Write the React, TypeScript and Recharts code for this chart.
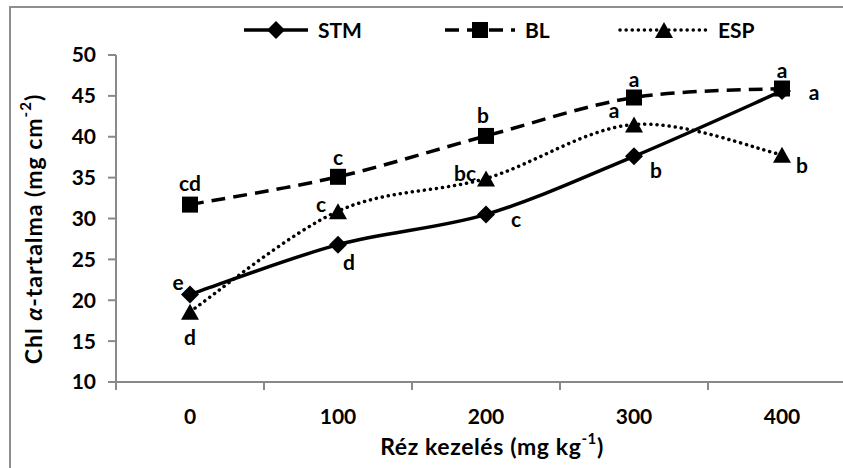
import React from 'react';
import { LineChart, Line, XAxis, YAxis, Legend, LabelList } from 'recharts';

// ─── Data ─────────────────────────────────────────────────────────────────────

const doses = ['0', '100', '200', '300', '400'];
const seriesNames = ['STM', 'BL', 'ESP'];
const stmValues = [20.7, 26.8, 30.5, 37.6, 45.6];
const blValues = [31.7, 35.1, 40.1, 44.8, 45.9];
const espValues = [18.6, 30.9, 34.9, 41.5, 37.8];
const stmLetters = ['e', 'd', 'c', 'b', 'a'];
const blLetters = ['cd', 'c', 'b', 'a', 'a'];
const espLetters = ['d', 'c', 'bc', 'a', 'b'];
const yTicks = [10, 15, 20, 25, 30, 35, 40, 45, 50];

const chartData = doses.map((dose, i) => ({
  dose,
  STM: stmValues[i],
  BL: blValues[i],
  ESP: espValues[i],
}));

// ─── Layout / style ───────────────────────────────────────────────────────────

const FONT = 'Lato, "Noto Sans", sans-serif';
const FONT_SIZE = 21;
const AXIS_GREY = '#898989';
const CHART_W = 880;
const CHART_H = 468;
const MARGIN = { top: 25, right: 24, left: 56, bottom: 0 };
const Y_AXIS_W = 60;
const X_AXIS_H = 86;
const BAND = (CHART_W - MARGIN.left - MARGIN.right - Y_AXIS_W) / doses.length;

// letter offsets (dx, dy) from each marker
const stmLabelOffsets = [[-12, -13], [11, 17], [30, 4], [22, 13], [32, 1]];
const blLabelOffsets = [[0, -22], [0, -20], [-3, -21], [0, -19], [0, -19]];
const espLabelOffsets = [[0, 25], [-17, -8], [-21, -6], [-20, -15], [20, 10]];

// legend item placement: left x, icon length
const legendLayout = [
  { x: 242, icon: 68 },
  { x: 443, icon: 74 },
  { x: 618, icon: 92 },
];

// ─── Excel-like smoothed line (Catmull-Rom as cubic Béziers) ──────────────────

const excelSmooth = (ctx: any) => {
  let pts: [number, number][] = [];
  return {
    areaStart() {},
    areaEnd() {},
    lineStart() {
      pts = [];
    },
    point(x: number, y: number) {
      pts.push([+x, +y]);
    },
    lineEnd() {
      if (!pts.length) return;
      ctx.moveTo(pts[0][0], pts[0][1]);
      for (let i = 0; i < pts.length - 1; i++) {
        const p0 = pts[Math.max(i - 1, 0)];
        const p1 = pts[i];
        const p2 = pts[i + 1];
        const p3 = pts[Math.min(i + 2, pts.length - 1)];
        ctx.bezierCurveTo(
          p1[0] + (p2[0] - p0[0]) / 6,
          p1[1] + (p2[1] - p0[1]) / 6,
          p2[0] - (p3[0] - p1[0]) / 6,
          p2[1] - (p3[1] - p1[1]) / 6,
          p2[0],
          p2[1],
        );
      }
    },
  };
};

// ─── Markers ──────────────────────────────────────────────────────────────────

function Diamond({ cx, cy, r = 9 }: { cx: number; cy: number; r?: number }) {
  return <path d={`M${cx},${cy - r}L${cx + r},${cy}L${cx},${cy + r}L${cx - r},${cy}Z`} fill="#000" />;
}

function Square({ cx, cy, s = 16 }: { cx: number; cy: number; s?: number }) {
  return <rect x={cx - s / 2} y={cy - s / 2} width={s} height={s} fill="#000" />;
}

function Triangle({ cx, cy, r = 9 }: { cx: number; cy: number; r?: number }) {
  return <path d={`M${cx},${cy - r + 1}L${cx + r},${cy + r - 1}L${cx - r},${cy + r - 1}Z`} fill="#000" />;
}

const markers = [Diamond, Square, Triangle];
const lineStyles = [
  { strokeDasharray: undefined, strokeLinecap: 'butt' as const },
  { strokeDasharray: '14 8', strokeLinecap: 'butt' as const },
  { strokeDasharray: '0.1 6', strokeLinecap: 'round' as const },
];

// ─── Letter labels ────────────────────────────────────────────────────────────

function makeLetterLabel(letters: string[], offsets: number[][]) {
  return (props: any) => {
    const i = props.index ?? 0;
    const x = props.x ?? props.viewBox?.x;
    const y = props.y ?? props.viewBox?.y;
    if (x == null || y == null) return null;
    return (
      <text
        x={x + offsets[i][0]}
        y={y + offsets[i][1]}
        textAnchor="middle"
        dominantBaseline="central"
        fontFamily={FONT}
        fontWeight={700}
        fontSize={FONT_SIZE}
        fill="#000"
      >
        {letters[i]}
      </text>
    );
  };
}

// ─── Axes pieces ──────────────────────────────────────────────────────────────

function XTick({ x, y, payload }: any) {
  return (
    <g>
      <line x1={x - BAND / 2} x2={x - BAND / 2} y1={y} y2={y + 8} stroke={AXIS_GREY} strokeWidth={2} />
      <text
        x={x}
        y={y + 33}
        textAnchor="middle"
        dominantBaseline="central"
        fontFamily={FONT}
        fontWeight={700}
        fontSize={FONT_SIZE}
        fill="#000"
      >
        {payload.value}
      </text>
    </g>
  );
}

function YTitle() {
  const cx = 33;
  const cy = 229;
  return (
    <text
      x={cx}
      y={cy}
      transform={`rotate(-90, ${cx}, ${cy})`}
      textAnchor="middle"
      dominantBaseline="central"
      fontFamily={FONT}
      fontWeight={700}
      fontSize={23}
      letterSpacing={1}
      fill="#000"
    >
      Chl <tspan fontStyle="italic">α</tspan>-tartalma (mg cm
      <tspan dy={-8} fontSize={15}>-2</tspan>
      <tspan dy={8}>)</tspan>
    </text>
  );
}

function XTitle() {
  return (
    <text
      x={492}
      y={446}
      textAnchor="middle"
      dominantBaseline="central"
      fontFamily={FONT}
      fontWeight={700}
      fontSize={23}
      letterSpacing={0.6}
      fill="#000"
    >
      Réz kezelés (mg kg
      <tspan dy={-8} fontSize={15}>-1</tspan>
      <tspan dy={8}>)</tspan>
    </text>
  );
}

// ─── Legend ───────────────────────────────────────────────────────────────────

function ChartLegend() {
  return (
    <div style={{ position: 'relative', width: CHART_W, height: 30 }}>
      {seriesNames.map((name, i) => {
        const Marker = markers[i];
        const { x, icon } = legendLayout[i];
        const st = lineStyles[i];
        return (
          <div
            key={name}
            style={{ position: 'absolute', left: x, top: 0, height: 30, display: 'flex', alignItems: 'center' }}
          >
            <svg width={icon} height={30}>
              <line
                x1={2}
                x2={icon - 2}
                y1={15}
                y2={15}
                stroke="#000"
                strokeWidth={3.5}
                strokeDasharray={st.strokeDasharray}
                strokeLinecap={st.strokeLinecap}
              />
              <Marker cx={icon / 2} cy={15} />
            </svg>
            <span
              style={{
                marginLeft: 8,
                fontFamily: FONT,
                fontWeight: 700,
                fontSize: FONT_SIZE,
                color: '#000',
                lineHeight: '30px',
              }}
            >
              {name}
            </span>
          </div>
        );
      })}
    </div>
  );
}

// ─── Chart ────────────────────────────────────────────────────────────────────

const seriesLetters = [stmLetters, blLetters, espLetters];
const seriesOffsets = [stmLabelOffsets, blLabelOffsets, espLabelOffsets];

export default function App() {
  return (
    <div
      style={{
        position: 'absolute',
        left: 0,
        top: 0,
        width: 843,
        height: 468,
        overflow: 'hidden',
        background: '#fff',
      }}
    >
      <div
        style={{
          position: 'absolute',
          left: 9,
          top: 6,
          width: 900,
          height: 500,
          borderLeft: '2px solid #8e8e8e',
          borderTop: '2px solid #8e8e8e',
        }}
      />
      <div style={{ position: 'absolute', left: 0, top: 0 }}>
        <LineChart width={CHART_W} height={CHART_H} data={chartData} margin={MARGIN}>
          <XAxis
            dataKey="dose"
            height={X_AXIS_H}
            padding={{ left: BAND / 2, right: BAND / 2 }}
            axisLine={{ stroke: AXIS_GREY, strokeWidth: 2 }}
            tickLine={false}
            tickSize={0}
            tickMargin={0}
            tick={<XTick />}
            interval={0}
            label={<XTitle />}
          />
          <YAxis
            domain={[10, 50]}
            ticks={yTicks}
            width={Y_AXIS_W}
            axisLine={{ stroke: AXIS_GREY, strokeWidth: 2 }}
            tickLine={{ stroke: AXIS_GREY, strokeWidth: 2 }}
            tickSize={8}
            tickMargin={12}
            tick={{ fontFamily: FONT, fontWeight: 700, fontSize: FONT_SIZE, fill: '#000' }}
            label={<YTitle />}
          />
          <Legend verticalAlign="top" content={<ChartLegend />} wrapperStyle={{ top: 15, left: 0 }} />
          {seriesNames.map((name, i) => {
            const Marker = markers[i];
            const st = lineStyles[i];
            return (
              <Line
                key={name}
                dataKey={name}
                type={excelSmooth as any}
                stroke="#000"
                strokeWidth={3.5}
                strokeDasharray={st.strokeDasharray}
                strokeLinecap={st.strokeLinecap}
                isAnimationActive={false}
                activeDot={false}
                dot={(p: any) => <Marker key={`${name}-${p.index}`} cx={p.cx} cy={p.cy} />}
              >
                <LabelList dataKey={name} content={makeLetterLabel(seriesLetters[i], seriesOffsets[i])} />
              </Line>
            );
          })}
        </LineChart>
      </div>
    </div>
  );
}
